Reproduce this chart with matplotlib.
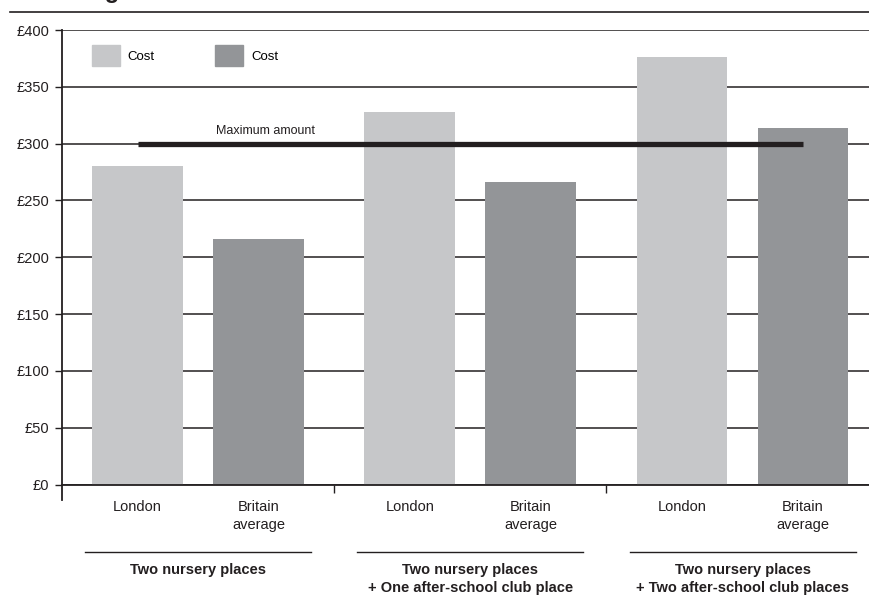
import matplotlib
matplotlib.use("Agg")
import matplotlib.pyplot as plt
from matplotlib.patches import Patch
import matplotlib.transforms as mtransforms

plt.rcParams['font.family'] = ['Liberation Sans', 'DejaVu Sans']

# data
groups = ["Two nursery places",
          "Two nursery places\n+ One after-school club place",
          "Two nursery places\n+ Two after-school club places"]
categories = ["London", "Britain\naverage"]
london_cost = [280, 328, 376]
britain_cost = [216, 266, 314]
max_amount = 300
y_ticks = [0, 50, 100, 150, 200, 250, 300, 350, 400]
legend_labels = ["Cost", "Cost"]

ink = '#231f20'
light = '#c6c7c9'
dark = '#939598'

fig = plt.figure(figsize=(8.69, 6.02), dpi=100)
ax = fig.add_axes([62 / 869, 1 - 484.5 / 602, 1 - 62 / 869, 454.5 / 602])

step = 2.25
group_x = [g * step for g in range(len(groups))]
x_lon = [g for g in group_x]
x_bri = [g + 1 for g in group_x]

ax.bar(x_lon, london_cost, width=0.75, color=light, zorder=2)
ax.bar(x_bri, britain_cost, width=0.75, color=dark, zorder=2)

# maximum amount line, from first bar centre to last bar centre
ax.plot([x_lon[0], x_bri[-1]], [max_amount, max_amount], color=ink, lw=3.8,
        solid_capstyle='butt', zorder=3)
ax.text(1.06, 306, "Maximum amount", ha='center', va='bottom', fontsize=9, color=ink)

ax.set_xlim(-0.624, 6.045)
ax.set_ylim(0, 400)
ax.set_yticks(y_ticks)
ax.set_yticklabels([f"£{v}" for v in y_ticks], fontsize=10.5, color=ink)
ax.yaxis.grid(True, color=ink, lw=1.1, zorder=0)
ax.set_axisbelow(True)
ax.tick_params(axis='y', length=5, width=1, color=ink, pad=4)

# category labels below bars
ax.set_xticks(x_lon + x_bri)
ax.set_xticklabels(categories[:1] * 3 + categories[1:] * 3, fontsize=10.5,
                   color=ink, linespacing=1.4, va='top')
ax.tick_params(axis='x', length=0, pad=11)
seps = [(x_bri[i] + x_lon[i + 1]) / 2 for i in range(len(groups) - 1)]
ax.set_xticks(seps, minor=True)
ax.tick_params(axis='x', which='minor', length=6, width=1, color=ink)

for s in ['top', 'right']:
    ax.spines[s].set_visible(False)
ax.spines['left'].set_color(ink)
ax.spines['left'].set_linewidth(1.3)
ax.spines['left'].set_bounds(-14, 400)
ax.spines['bottom'].set_color(ink)
ax.spines['bottom'].set_linewidth(1.3)

# group lines and labels
trans = mtransforms.blended_transform_factory(ax.transData, ax.transAxes)
for g, name in zip(group_x, groups):
    c = g + 0.5
    ax.plot([c - 0.934, c + 0.934], [-0.1485, -0.1485], color=ink, lw=1,
            transform=trans, clip_on=False)
    ax.text(c, -0.172, name, transform=trans, ha='center', va='top',
            fontsize=10.5, fontweight='bold', color=ink, linespacing=1.35)

# legend
handles = [Patch(color=light), Patch(color=dark)]
fig.legend(handles, legend_labels, loc='upper left', bbox_to_anchor=(92 / 869, 1 - 45 / 602),
           ncol=2, frameon=False, fontsize=9.5, handlelength=2.1, handleheight=2.1,
           handletextpad=0.6, columnspacing=4.6, borderpad=0, borderaxespad=0)

# title rule and title (cropped off at the top edge, as in the source)
fig.add_artist(plt.Line2D([10 / 869, 1], [1 - 12 / 602, 1 - 12 / 602], color=ink, lw=1.2))
fig.text(40 / 869, 1 + 1.5 / 602, "Average childcare costs", fontsize=17, fontweight='bold',
         color=ink, va='baseline', ha='left')

fig.savefig("out.png", dpi=100)
